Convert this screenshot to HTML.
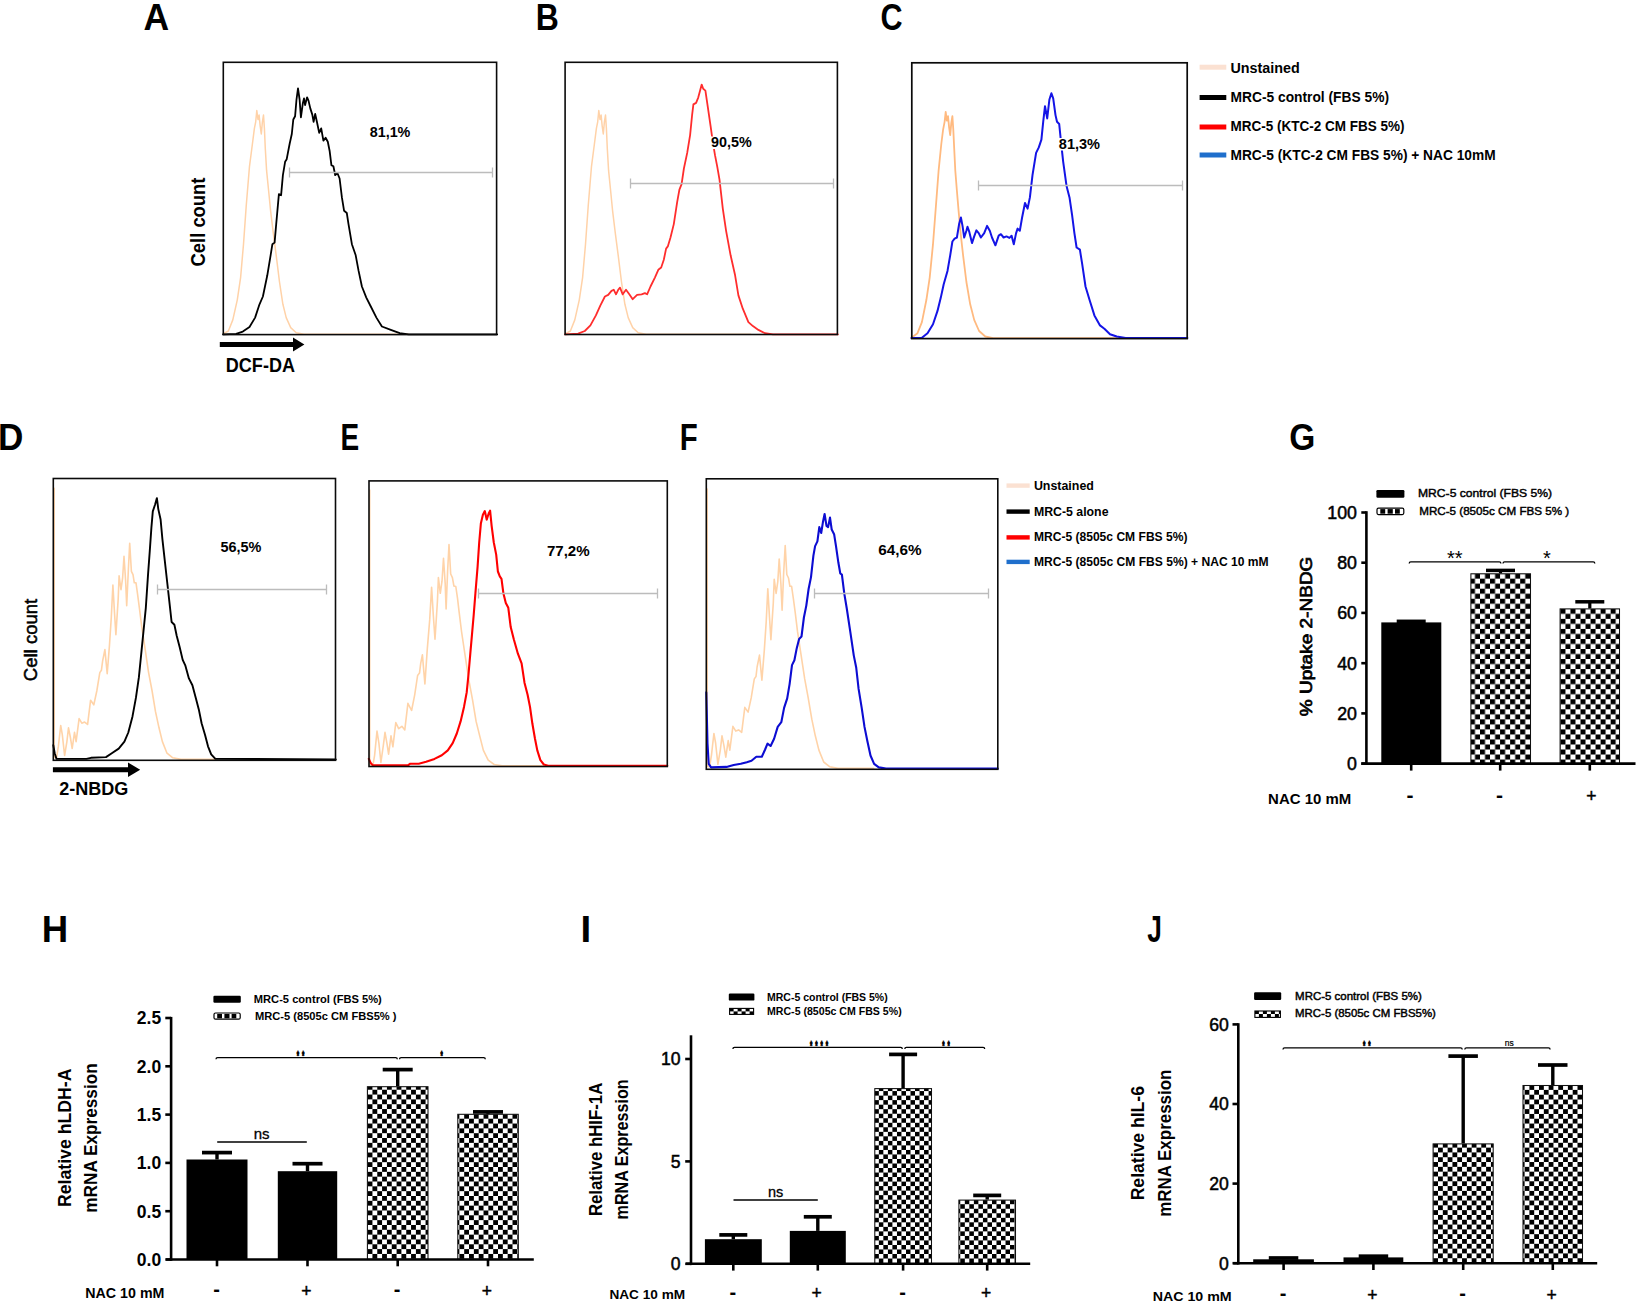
<!DOCTYPE html>
<html lang="en"><head><meta charset="utf-8"><title>Figure</title>
<style>html,body{margin:0;padding:0;background:#fff}svg{display:block}text{font-family:'Liberation Sans', sans-serif}</style>
</head><body>
<svg width="1640" height="1303" viewBox="0 0 1640 1303">
<rect width="1640" height="1303" fill="#fff"/>
<defs>
<pattern id="chkG" patternUnits="userSpaceOnUse" x="1560.40" y="608.80" width="10.05" height="10.05"><rect width="10.05" height="10.05" fill="#fff"/><rect x="0" y="0" width="5.03" height="5.03" fill="#000"/><rect x="5.03" y="5.03" width="5.03" height="5.03" fill="#000"/></pattern>
<pattern id="chkH" patternUnits="userSpaceOnUse" x="367.60" y="1084.90" width="9.66" height="9.66"><rect width="9.66" height="9.66" fill="#fff"/><rect x="0" y="0" width="4.83" height="4.83" fill="#000"/><rect x="4.83" y="4.83" width="4.83" height="4.83" fill="#000"/></pattern>
<pattern id="chkI" patternUnits="userSpaceOnUse" x="874.30" y="1091.10" width="9.05" height="9.05"><rect width="9.05" height="9.05" fill="#fff"/><rect x="0" y="0" width="4.53" height="4.53" fill="#000"/><rect x="4.53" y="4.53" width="4.53" height="4.53" fill="#000"/></pattern>
<pattern id="chkJ" patternUnits="userSpaceOnUse" x="1433.20" y="1142.80" width="9.62" height="9.62"><rect width="9.62" height="9.62" fill="#fff"/><rect x="0" y="0" width="4.81" height="4.81" fill="#000"/><rect x="4.81" y="4.81" width="4.81" height="4.81" fill="#000"/></pattern>
<pattern id="chkL" patternUnits="userSpaceOnUse" width="8" height="6"><rect width="8" height="6" fill="#fff"/><rect x="0" y="0" width="4" height="3" fill="#000"/><rect x="4" y="3" width="4" height="3" fill="#000"/></pattern>
</defs>
<polyline points="223.0,333.9 228.4,331.0 232.8,319.9 237.3,299.8 240.6,277.6 243.5,244.2 246.2,206.3 249.5,166.3 252.4,144.0 254.4,128.4 255.7,121.8 256.8,110.6 258.0,119.5 259.1,115.1 260.2,126.2 261.3,134.0 262.4,121.8 263.5,115.1 264.4,128.4 265.3,148.5 266.6,170.7 268.4,188.5 270.6,210.8 273.3,233.1 276.2,255.3 279.5,282.0 282.9,304.3 286.2,317.6 290.7,327.6 296.2,332.8 304.0,334.3 408.6,334.3" fill="none" stroke="#ffd2a8" stroke-width="1.5" stroke-linejoin="round" stroke-linecap="round" />
<polyline points="223.0,334.3 236.1,333.9 242.8,331.6 249.5,327.0 255.1,317.6 259.5,304.3 262.9,296.5 267.3,275.3 270.6,255.3 272.4,244.2 274.6,242.6 276.2,224.1 278.4,199.7 278.9,194.1 281.1,195.2 282.9,175.2 285.1,161.8 286.7,159.2 289.6,144.0 291.8,134.0 293.3,119.5 295.1,116.2 296.5,99.5 298.0,88.4 299.6,99.5 300.9,117.3 302.9,102.9 304.0,98.4 305.1,105.1 307.1,97.3 308.5,100.6 310.3,108.4 312.3,114.6 313.6,121.8 315.2,114.0 316.9,121.8 319.2,132.9 321.2,128.4 323.4,140.7 325.6,137.8 327.8,141.8 329.6,150.7 331.4,165.2 333.4,166.3 335.2,175.2 337.4,173.0 339.6,178.5 341.9,197.4 344.1,210.8 346.8,213.0 348.5,224.1 351.9,244.2 355.7,255.3 358.6,270.9 361.9,286.5 366.3,297.6 370.8,306.5 376.4,317.6 381.9,326.5 390.8,329.9 399.7,333.2 408.6,334.3 497.2,334.3" fill="none" stroke="#000" stroke-width="1.8" stroke-linejoin="round" stroke-linecap="round" />
<line x1="289.5" y1="172.5" x2="492.5" y2="172.5" stroke="#bcbcbc" stroke-width="1.4" />
<line x1="289.5" y1="167.5" x2="289.5" y2="177.5" stroke="#bcbcbc" stroke-width="1.3" />
<line x1="492.5" y1="167.5" x2="492.5" y2="177.5" stroke="#bcbcbc" stroke-width="1.3" />
<rect x="223.3" y="62.3" width="273.3" height="272.3" fill="none" stroke="#0a0a0a" stroke-width="1.6" />
<text x="369.7" y="137.3" font-size="14.4" font-weight="bold" text-anchor="start" fill="#000" textLength="40.7" lengthAdjust="spacingAndGlyphs" >81,1%</text>
<text transform="translate(205.4,222.0) rotate(-90)" font-size="20" font-weight="bold" text-anchor="middle" fill="#000" textLength="89.0" lengthAdjust="spacingAndGlyphs">Cell count</text>
<path d="M219.8 342.0 H293 V337.6 L304.4 344.5 L293 351.4 V347.0 H219.8 Z" fill="#000"/>
<text x="225.8" y="372.0" font-size="19.4" font-weight="bold" text-anchor="start" fill="#000" textLength="69.2" lengthAdjust="spacingAndGlyphs" >DCF-DA</text>
<polyline points="565.0,333.9 570.4,331.0 574.8,319.9 579.3,299.8 582.6,277.6 585.5,244.2 588.2,206.3 591.5,166.3 594.4,144.0 596.4,128.4 597.7,121.8 598.8,110.6 600.0,119.5 601.1,115.1 602.2,126.2 603.3,134.0 604.4,121.8 605.5,115.1 606.4,128.4 607.3,148.5 608.6,170.7 610.4,188.5 612.6,210.8 615.3,233.1 618.2,255.3 621.5,282.0 624.9,304.3 628.2,317.6 632.7,327.6 638.2,332.8 646.0,334.3 750.6,334.3" fill="none" stroke="#ffd2a8" stroke-width="1.5" stroke-linejoin="round" stroke-linecap="round" />
<polyline points="565.0,334.3 578.1,333.6 584.8,331.0 590.4,325.4 595.9,315.4 600.4,305.4 604.9,296.5 608.2,294.9 611.5,290.9 613.8,289.8 616.0,294.3 618.2,289.8 620.0,287.6 622.7,294.3 626.0,289.8 629.3,294.3 632.7,299.2 637.1,294.9 641.6,294.3 644.9,293.1 647.1,294.3 650.5,286.5 654.9,277.6 658.3,269.8 661.2,267.5 663.8,259.8 666.1,248.6 667.8,246.4 670.5,237.5 673.8,224.1 677.2,201.9 679.4,189.7 681.6,184.1 683.9,168.5 687.2,152.9 690.1,135.1 692.1,115.1 693.4,104.4 696.1,102.9 698.3,97.3 700.1,90.6 701.7,84.6 703.2,88.8 705.4,90.6 707.2,102.9 710.6,126.2 712.8,141.8 715.0,155.2 717.2,166.3 719.5,179.6 722.8,208.6 726.1,230.8 730.6,255.3 735.1,275.3 738.4,295.4 742.8,308.7 748.4,322.1 752.9,326.1 758.4,329.9 765.1,333.2 772.9,334.3 837.9,334.3" fill="none" stroke="#ff2d2d" stroke-width="1.8" stroke-linejoin="round" stroke-linecap="round" />
<line x1="630.5" y1="183.5" x2="833.5" y2="183.5" stroke="#bcbcbc" stroke-width="1.4" />
<line x1="630.5" y1="178.5" x2="630.5" y2="188.5" stroke="#bcbcbc" stroke-width="1.3" />
<line x1="833.5" y1="178.5" x2="833.5" y2="188.5" stroke="#bcbcbc" stroke-width="1.3" />
<rect x="565.1" y="62.3" width="272.3" height="272.2" fill="none" stroke="#0a0a0a" stroke-width="1.6" />
<rect x="710.0" y="136.5" width="43.0" height="12.5" fill="#fff" stroke="none" stroke-width="0" />
<text x="711.0" y="147.4" font-size="14.4" font-weight="bold" text-anchor="start" fill="#000" textLength="40.7" lengthAdjust="spacingAndGlyphs" >90,5%</text>
<polyline points="911.5,337.7 917.5,333.2 921.9,322.1 926.4,299.8 929.7,277.6 933.0,244.2 935.9,206.3 938.6,170.7 941.3,144.0 943.1,129.6 944.6,121.8 945.7,111.8 946.8,120.7 948.0,116.2 949.1,127.3 950.2,135.1 951.3,122.9 952.4,116.2 953.3,129.6 954.2,148.5 955.3,170.7 956.9,190.8 958.6,210.8 960.6,233.1 963.1,255.3 966.4,282.0 970.2,304.3 974.2,319.9 979.1,331.0 985.3,336.5 993.1,338.1 1116.7,338.1" fill="none" stroke="#ffba80" stroke-width="1.8" stroke-linejoin="round" stroke-linecap="round" />
<polyline points="911.5,338.1 921.9,337.7 927.5,333.2 933.0,324.3 937.5,310.9 940.8,297.6 943.7,284.2 947.5,270.9 950.2,255.3 952.4,241.5 954.6,238.6 956.9,237.5 959.1,224.1 960.9,217.5 962.6,226.4 964.2,237.5 966.4,230.8 967.5,226.8 969.3,231.9 972.0,243.1 974.2,236.4 976.4,230.4 978.7,233.1 980.9,237.5 984.2,233.1 987.1,225.9 989.8,230.8 992.0,237.5 995.4,245.3 998.7,235.7 1000.9,234.2 1003.6,237.5 1006.5,236.4 1009.4,237.9 1011.6,235.7 1013.8,244.2 1016.1,233.1 1017.6,228.6 1019.8,230.8 1022.1,217.5 1025.0,203.0 1027.6,208.6 1029.9,197.4 1032.5,175.2 1036.1,152.9 1038.8,147.4 1041.4,139.6 1043.2,121.8 1045.0,106.2 1047.2,118.4 1049.4,99.5 1051.4,93.3 1053.2,98.4 1055.5,115.1 1057.0,121.8 1059.2,124.0 1061.0,141.8 1063.2,161.8 1066.6,186.3 1069.5,197.4 1072.1,215.2 1074.4,233.1 1076.6,247.5 1079.9,249.7 1082.2,264.2 1085.5,286.5 1089.5,299.8 1094.4,315.4 1100.0,325.4 1104.4,328.8 1110.0,334.3 1116.7,336.5 1125.6,338.1 1187.4,338.1" fill="none" stroke="#1414e6" stroke-width="2.0" stroke-linejoin="round" stroke-linecap="round" />
<line x1="978.5" y1="185.5" x2="1182.5" y2="185.5" stroke="#bcbcbc" stroke-width="1.4" />
<line x1="978.5" y1="180.5" x2="978.5" y2="190.5" stroke="#bcbcbc" stroke-width="1.3" />
<line x1="1182.5" y1="180.5" x2="1182.5" y2="190.5" stroke="#bcbcbc" stroke-width="1.3" />
<rect x="911.8" y="62.8" width="275.4" height="275.8" fill="none" stroke="#0a0a0a" stroke-width="1.7" />
<rect x="1058.0" y="138.0" width="43.0" height="12.5" fill="#fff" stroke="none" stroke-width="0" />
<text x="1058.8" y="148.9" font-size="14.4" font-weight="bold" text-anchor="start" fill="#000" textLength="41.2" lengthAdjust="spacingAndGlyphs" >81,3%</text>
<line x1="1199.6" y1="67.2" x2="1226.3" y2="67.2" stroke="#fbe1d2" stroke-width="5" />
<line x1="1199.6" y1="97.5" x2="1226.3" y2="97.5" stroke="#000" stroke-width="5" />
<line x1="1199.6" y1="127.0" x2="1226.3" y2="127.0" stroke="#ff0000" stroke-width="5" />
<line x1="1199.6" y1="155.0" x2="1226.3" y2="155.0" stroke="#1f6fcc" stroke-width="5" />
<text x="1230.5" y="73.1" font-size="14" font-weight="bold" text-anchor="start" fill="#000" textLength="69.3" lengthAdjust="spacingAndGlyphs" >Unstained</text>
<text x="1230.5" y="102.3" font-size="14" font-weight="bold" text-anchor="start" fill="#000" textLength="158.5" lengthAdjust="spacingAndGlyphs" >MRC-5 control (FBS 5%)</text>
<text x="1230.5" y="131.2" font-size="14" font-weight="bold" text-anchor="start" fill="#000" textLength="173.9" lengthAdjust="spacingAndGlyphs" >MRC-5 (KTC-2 CM FBS 5%)</text>
<text x="1230.5" y="160.0" font-size="14" font-weight="bold" text-anchor="start" fill="#000" textLength="265.1" lengthAdjust="spacingAndGlyphs" >MRC-5 (KTC-2 CM FBS 5%) + NAC 10mM</text>
<text transform="translate(143.51,30.0) scale(0.965,1)" font-size="36.8" font-weight="bold" fill="#000">A</text>
<text transform="translate(535.72,30.0) scale(0.869,1)" font-size="36.8" font-weight="bold" fill="#000">B</text>
<text transform="translate(880.48,30.2) scale(0.830,1)" font-size="36.8" font-weight="bold" fill="#000">C</text>
<polyline points="54.2,488.4 54.2,757.4 56.5,757.8 58.4,746.2 60.7,725.5 62.3,734.7 64.6,755.5 66.9,741.6 68.5,727.8 70.3,737.0 72.2,748.5 74.5,732.4 76.1,741.6 79.1,718.6 81.8,723.2 84.6,722.1 87.6,724.4 90.6,700.2 93.8,704.8 96.8,691.0 99.8,672.6 101.4,670.3 102.6,661.1 104.9,649.6 107.2,673.7 109.5,644.9 111.3,617.3 112.9,585.1 114.5,612.7 115.9,634.6 118.2,598.9 119.1,575.9 121.0,589.7 122.6,578.2 124.0,556.3 125.6,580.5 126.7,605.8 128.4,569.0 129.7,543.2 131.4,571.3 133.0,574.7 134.3,582.8 136.0,582.8 137.6,594.3 139.4,608.1 141.7,626.5 145.2,649.6 148.6,672.6 152.1,691.0 155.5,711.7 159.0,727.8 162.4,741.6 167.0,753.2 172.8,757.8 180.9,759.4 215.4,759.4" fill="none" stroke="#ffd3a8" stroke-width="1.6" stroke-linejoin="round" stroke-linecap="round" />
<polyline points="53.3,745.1 54.7,753.2 56.5,758.9 86.4,758.9 91.0,757.8 106.0,757.1 111.8,753.2 118.7,748.6 124.4,741.7 128.3,732.5 132.5,716.4 135.9,697.9 138.9,677.2 141.2,654.2 143.5,631.2 145.8,608.1 148.1,573.6 149.8,550.6 151.4,527.6 152.8,511.4 155.1,504.5 156.9,498.1 158.3,509.1 160.6,519.5 162.4,539.1 164.7,559.8 167.0,580.5 169.3,601.2 171.6,622.0 174.4,624.7 176.7,635.8 179.7,647.3 182.7,659.9 185.4,665.7 188.9,678.4 192.4,685.3 195.8,697.9 198.8,709.4 201.6,723.3 205.0,734.8 208.0,746.3 211.2,754.3 215.4,758.9 335.8,759.4" fill="none" stroke="#000" stroke-width="1.9" stroke-linejoin="round" stroke-linecap="round" />
<line x1="157.5" y1="589.5" x2="326.5" y2="589.5" stroke="#bcbcbc" stroke-width="1.4" />
<line x1="157.5" y1="584.5" x2="157.5" y2="594.5" stroke="#bcbcbc" stroke-width="1.3" />
<line x1="326.5" y1="584.5" x2="326.5" y2="594.5" stroke="#bcbcbc" stroke-width="1.3" />
<rect x="53.3" y="478.5" width="282.2" height="281.8" fill="none" stroke="#0a0a0a" stroke-width="1.6" />
<text x="220.4" y="552.4" font-size="14.4" font-weight="bold" text-anchor="start" fill="#000" textLength="41.0" lengthAdjust="spacingAndGlyphs" >56,5%</text>
<text transform="translate(36.8,640.0) rotate(-90)" font-size="18.8" font-weight="normal" text-anchor="middle" fill="#000" textLength="82.4" lengthAdjust="spacingAndGlyphs" stroke="#000" stroke-width="0.55">Cell count</text>
<path d="M52.9 767.2 H128 V762.5 L140.2 769.7 L128 776.9 V772.2 H52.9 Z" fill="#000"/>
<text x="59.2" y="794.6" font-size="18.8" font-weight="bold" text-anchor="start" fill="#000" textLength="69.2" lengthAdjust="spacingAndGlyphs" >2-NBDG</text>
<polyline points="369.7,490.0 369.7,764.5 372.9,765.4 374.6,755.3 377.0,731.1 378.9,743.2 380.9,762.5 383.3,745.6 385.0,732.3 386.9,743.2 388.6,754.1 391.0,735.9 392.9,746.8 395.8,722.6 398.7,728.7 401.9,726.3 404.8,729.9 407.9,703.3 411.6,710.5 414.7,694.8 417.6,675.5 419.5,673.1 420.7,663.4 422.4,654.9 424.9,683.9 427.3,648.9 429.7,619.9 431.6,587.2 433.3,615.0 435.0,639.2 437.4,601.8 438.4,577.6 440.3,593.3 442.0,581.2 443.5,558.2 445.2,583.6 446.1,609.0 447.6,571.5 449.0,544.5 450.7,574.0 452.4,577.6 453.9,586.0 455.8,586.5 457.5,598.1 459.2,612.6 461.6,632.0 465.2,656.1 468.9,680.3 472.5,699.7 476.1,721.4 479.7,735.9 483.4,750.4 488.2,760.1 494.2,764.5 502.2,765.7 543.3,765.7" fill="none" stroke="#ffd3a8" stroke-width="1.6" stroke-linejoin="round" stroke-linecap="round" />
<polyline points="368.8,758.9 370.7,763.0 372.9,765.4 407.9,765.4 410.3,763.7 418.8,763.7 426.1,761.8 434.5,758.9 441.8,755.3 447.8,750.4 452.7,743.2 456.8,733.5 460.6,721.4 464.0,706.9 466.7,692.4 468.4,675.5 470.3,653.7 472.0,634.4 473.7,615.0 475.6,590.9 477.6,566.7 479.2,542.5 480.9,523.2 482.9,514.7 484.8,511.1 486.7,519.6 488.7,513.5 490.1,510.6 491.6,525.6 493.8,542.5 496.2,554.6 497.9,571.5 499.8,576.4 501.5,578.8 503.4,593.3 505.8,603.0 508.3,607.8 510.7,627.1 513.8,639.2 517.9,653.7 521.6,663.4 524.5,682.7 527.6,694.8 530.0,706.9 532.4,723.8 534.9,738.3 537.3,750.4 540.4,760.1 543.8,764.5 548.1,765.7 667.3,765.7" fill="none" stroke="#ff0000" stroke-width="2.1" stroke-linejoin="round" stroke-linecap="round" />
<line x1="478.5" y1="593.5" x2="657.5" y2="593.5" stroke="#bcbcbc" stroke-width="1.4" />
<line x1="478.5" y1="588.5" x2="478.5" y2="598.5" stroke="#bcbcbc" stroke-width="1.3" />
<line x1="657.5" y1="588.5" x2="657.5" y2="598.5" stroke="#bcbcbc" stroke-width="1.3" />
<rect x="369.0" y="480.9" width="298.3" height="285.6" fill="none" stroke="#0a0a0a" stroke-width="1.6" />
<text x="546.9" y="555.8" font-size="14.4" font-weight="bold" text-anchor="start" fill="#000" textLength="42.8" lengthAdjust="spacingAndGlyphs" >77,2%</text>
<polyline points="707.2,489.0 707.2,766.4 709.6,766.7 711.5,754.8 713.9,733.5 715.6,743.0 717.9,764.3 720.3,750.1 722.0,735.8 723.9,745.3 725.8,757.2 728.2,740.6 729.8,750.1 732.9,726.4 735.8,731.1 738.6,729.9 741.7,732.3 744.8,707.4 748.1,712.1 751.2,697.9 754.3,678.9 756.0,676.5 757.1,667.0 759.5,655.1 761.9,680.1 764.3,650.4 766.2,621.9 767.8,588.7 769.5,617.2 770.9,639.7 773.3,602.9 774.2,579.2 776.1,593.4 777.8,581.6 779.2,559.0 780.9,583.9 782.1,610.1 783.7,572.1 785.2,545.5 786.8,574.5 788.5,578.0 789.9,586.3 791.6,586.3 793.3,598.2 795.2,612.4 797.5,631.4 801.1,655.1 804.7,678.9 808.2,697.9 811.8,719.2 815.3,735.8 818.9,750.1 823.7,762.0 829.6,766.7 837.9,768.4 873.6,768.4" fill="none" stroke="#ffd3a8" stroke-width="1.6" stroke-linejoin="round" stroke-linecap="round" />
<polyline points="706.3,692.4 707.5,743.6 708.7,763.8 711.1,767.4 726.5,766.9 733.7,765.0 740.8,763.8 746.8,762.2 751.5,760.7 756.3,756.7 761.8,756.7 765.1,749.5 767.5,743.6 770.6,746.0 774.1,738.8 777.7,726.9 781.3,722.2 784.1,707.9 787.2,698.4 789.6,684.1 792.0,665.1 794.4,660.3 796.7,648.4 799.1,638.9 801.5,636.5 803.9,617.5 806.3,605.6 808.6,589.0 811.0,577.1 813.4,555.6 815.1,546.1 817.4,541.4 819.3,527.1 821.2,533.0 822.9,522.3 824.6,514.0 826.5,525.9 828.1,527.1 830.0,517.6 831.7,529.5 834.1,534.2 836.0,546.1 838.4,562.8 840.3,573.5 841.9,574.7 844.3,593.7 846.7,608.0 850.3,631.8 853.8,655.6 856.2,667.5 858.6,688.9 861.7,707.9 864.5,726.9 867.4,741.2 870.5,755.5 874.1,763.8 878.8,767.4 886.0,768.6 997.8,768.6" fill="none" stroke="#0c0cd2" stroke-width="2.1" stroke-linejoin="round" stroke-linecap="round" />
<line x1="814.5" y1="593.5" x2="988.5" y2="593.5" stroke="#bcbcbc" stroke-width="1.4" />
<line x1="814.5" y1="588.5" x2="814.5" y2="598.5" stroke="#bcbcbc" stroke-width="1.3" />
<line x1="988.5" y1="588.5" x2="988.5" y2="598.5" stroke="#bcbcbc" stroke-width="1.3" />
<rect x="706.3" y="478.8" width="291.5" height="290.5" fill="none" stroke="#0a0a0a" stroke-width="1.6" />
<text x="878.3" y="554.9" font-size="14.4" font-weight="bold" text-anchor="start" fill="#000" textLength="43.3" lengthAdjust="spacingAndGlyphs" >64,6%</text>
<line x1="1006.5" y1="485.6" x2="1029.7" y2="485.6" stroke="#fbe1d2" stroke-width="4.4" />
<line x1="1006.5" y1="511.6" x2="1029.7" y2="511.6" stroke="#000" stroke-width="4.4" />
<line x1="1006.5" y1="537.4" x2="1029.7" y2="537.4" stroke="#ff0000" stroke-width="4.4" />
<line x1="1006.5" y1="561.9" x2="1029.7" y2="561.9" stroke="#1f6fcc" stroke-width="4.4" />
<text x="1033.9" y="490.2" font-size="12" font-weight="bold" text-anchor="start" fill="#000" textLength="60.0" lengthAdjust="spacingAndGlyphs" >Unstained</text>
<text x="1033.9" y="515.8" font-size="12" font-weight="bold" text-anchor="start" fill="#000" textLength="74.6" lengthAdjust="spacingAndGlyphs" >MRC-5 alone</text>
<text x="1033.9" y="540.5" font-size="12" font-weight="bold" text-anchor="start" fill="#000" textLength="153.6" lengthAdjust="spacingAndGlyphs" >MRC-5 (8505c CM FBS 5%)</text>
<text x="1033.9" y="566.1" font-size="12" font-weight="bold" text-anchor="start" fill="#000" textLength="234.7" lengthAdjust="spacingAndGlyphs" >MRC-5 (8505c CM FBS 5%) + NAC 10 mM</text>
<text transform="translate(-2.08,449.5) scale(0.954,1)" font-size="36.8" font-weight="bold" fill="#000">D</text>
<text transform="translate(340.38,450.0) scale(0.760,1)" font-size="36.8" font-weight="bold" fill="#000">E</text>
<text transform="translate(679.69,450.0) scale(0.799,1)" font-size="36.8" font-weight="bold" fill="#000">F</text>
<text transform="translate(1289.26,450.2) scale(0.910,1)" font-size="36.8" font-weight="bold" fill="#000">G</text>
<rect x="1381.3" y="622.4" width="60.0" height="141.2" fill="#000" stroke="none" stroke-width="0" />
<rect x="1470.9" y="573.8" width="59.6" height="189.8" fill="url(#chkG)" stroke="#111" stroke-width="1.05"/>
<rect x="1560.1" y="608.9" width="59.4" height="154.7" fill="url(#chkG)" stroke="#111" stroke-width="1.05"/>
<line x1="1411.2" y1="621.3" x2="1411.2" y2="622.4" stroke="#000" stroke-width="3.2" />
<line x1="1396.7" y1="621.3" x2="1425.7" y2="621.3" stroke="#000" stroke-width="3.5" />
<line x1="1500.5" y1="570.4" x2="1500.5" y2="573.3" stroke="#000" stroke-width="3.2" />
<line x1="1486.0" y1="570.4" x2="1515.0" y2="570.4" stroke="#000" stroke-width="3.5" />
<line x1="1589.8" y1="601.8" x2="1589.8" y2="608.4" stroke="#000" stroke-width="3.2" />
<line x1="1575.3" y1="601.8" x2="1604.3" y2="601.8" stroke="#000" stroke-width="3.5" />
<line x1="1366.4" y1="511.2" x2="1366.4" y2="764.9" stroke="#000" stroke-width="2.6" />
<line x1="1361.3" y1="763.6" x2="1635.5" y2="763.6" stroke="#000" stroke-width="2.6" />
<line x1="1361.3" y1="763.6" x2="1366.4" y2="763.6" stroke="#000" stroke-width="2.6" />
<text x="1357.0" y="769.9" font-size="17.8" font-weight="normal" text-anchor="end" fill="#000"  stroke="#000" stroke-width="0.5">0</text>
<line x1="1361.3" y1="713.4" x2="1366.4" y2="713.4" stroke="#000" stroke-width="2.6" />
<text x="1357.0" y="719.7" font-size="17.8" font-weight="normal" text-anchor="end" fill="#000"  stroke="#000" stroke-width="0.5">20</text>
<line x1="1361.3" y1="663.2" x2="1366.4" y2="663.2" stroke="#000" stroke-width="2.6" />
<text x="1357.0" y="669.5" font-size="17.8" font-weight="normal" text-anchor="end" fill="#000"  stroke="#000" stroke-width="0.5">40</text>
<line x1="1361.3" y1="612.9" x2="1366.4" y2="612.9" stroke="#000" stroke-width="2.6" />
<text x="1357.0" y="619.2" font-size="17.8" font-weight="normal" text-anchor="end" fill="#000"  stroke="#000" stroke-width="0.5">60</text>
<line x1="1361.3" y1="562.7" x2="1366.4" y2="562.7" stroke="#000" stroke-width="2.6" />
<text x="1357.0" y="569.0" font-size="17.8" font-weight="normal" text-anchor="end" fill="#000"  stroke="#000" stroke-width="0.5">80</text>
<line x1="1361.3" y1="512.5" x2="1366.4" y2="512.5" stroke="#000" stroke-width="2.6" />
<text x="1357.0" y="518.8" font-size="17.8" font-weight="normal" text-anchor="end" fill="#000"  stroke="#000" stroke-width="0.5">100</text>
<line x1="1411.2" y1="763.6" x2="1411.2" y2="770.6" stroke="#000" stroke-width="2.6" />
<line x1="1500.2" y1="763.6" x2="1500.2" y2="770.6" stroke="#000" stroke-width="2.6" />
<line x1="1589.8" y1="763.6" x2="1589.8" y2="770.6" stroke="#000" stroke-width="2.6" />
<text transform="translate(1311.6,636.4) rotate(-90)" font-size="16" font-weight="normal" text-anchor="middle" fill="#000" textLength="159.6" lengthAdjust="spacingAndGlyphs" stroke="#000" stroke-width="0.7">% Uptake 2-NBDG</text>
<path d="M1409.2 563.5 Q1409.2 561.9 1410.8 561.9 H1499.3 Q1500.9 561.9 1500.9 563.5" fill="none" stroke="#000" stroke-width="1.3"/>
<path d="M1503.0 563.5 Q1503.0 561.9 1504.6 561.9 H1593.2 Q1594.8 561.9 1594.8 563.5" fill="none" stroke="#000" stroke-width="1.3"/>
<text x="1454.8" y="565.2" font-size="20" font-weight="normal" text-anchor="middle" fill="#000" >**</text>
<text x="1547.0" y="565.2" font-size="20" font-weight="normal" text-anchor="middle" fill="#000" >*</text>
<rect x="1376.4" y="490.0" width="28.0" height="7.7" fill="#000" stroke="none" stroke-width="0" rx="1.2"/>
<rect x="1377.0" y="508.2" width="26.8" height="6.4" fill="#fff" stroke="#000" stroke-width="1.2" rx="1.5"/>
<rect x="1380.3" y="509.1" width="4.9" height="4.6" fill="#000" stroke="none" stroke-width="0" />
<rect x="1387.6" y="509.1" width="5.2" height="4.6" fill="#000" stroke="none" stroke-width="0" />
<rect x="1395.0" y="509.1" width="4.8" height="4.6" fill="#000" stroke="none" stroke-width="0" />
<text x="1418.0" y="497.0" font-size="11.8" font-weight="normal" text-anchor="start" fill="#000" textLength="134.0" lengthAdjust="spacingAndGlyphs"  stroke="#000" stroke-width="0.45">MRC-5 control (FBS 5%)</text>
<text x="1419.2" y="514.7" font-size="11.8" font-weight="normal" text-anchor="start" fill="#000" textLength="150.0" lengthAdjust="spacingAndGlyphs"  stroke="#000" stroke-width="0.45">MRC-5 (8505c CM FBS 5% )</text>
<text x="1268.1" y="803.9" font-size="13.8" font-weight="bold" text-anchor="start" fill="#000" textLength="83.1" lengthAdjust="spacingAndGlyphs" >NAC 10 mM</text>
<text x="1410.0" y="802.4" font-size="21" font-weight="bold" text-anchor="middle" fill="#000" >-</text>
<text x="1499.6" y="802.4" font-size="21" font-weight="bold" text-anchor="middle" fill="#000" >-</text>
<text x="1591.3" y="802.0" font-size="17.5" font-weight="normal" text-anchor="middle" fill="#000"  stroke="#000" stroke-width="0.45">+</text>
<text transform="translate(41.82,942.2) scale(0.995,1)" font-size="36.8" font-weight="bold" fill="#000">H</text>
<rect x="186.5" y="1159.5" width="61.0" height="100.0" fill="#000" stroke="none" stroke-width="0" />
<line x1="217.0" y1="1152.6" x2="217.0" y2="1159.5" stroke="#000" stroke-width="3.4" />
<line x1="202.0" y1="1152.6" x2="232.0" y2="1152.6" stroke="#000" stroke-width="3.6999999999999997" />
<rect x="277.8" y="1171.2" width="59.4" height="88.3" fill="#000" stroke="none" stroke-width="0" />
<line x1="307.5" y1="1163.7" x2="307.5" y2="1171.2" stroke="#000" stroke-width="3.4" />
<line x1="292.5" y1="1163.7" x2="322.5" y2="1163.7" stroke="#000" stroke-width="3.6999999999999997" />
<rect x="367.4" y="1086.7" width="60.6" height="172.8" fill="url(#chkH)" stroke="#111" stroke-width="1.05"/>
<line x1="397.7" y1="1069.6" x2="397.7" y2="1086.2" stroke="#000" stroke-width="3.4" />
<line x1="382.7" y1="1069.6" x2="412.7" y2="1069.6" stroke="#000" stroke-width="3.6999999999999997" />
<rect x="457.8" y="1114.3" width="60.5" height="145.2" fill="url(#chkH)" stroke="#111" stroke-width="1.05"/>
<line x1="488.0" y1="1111.9" x2="488.0" y2="1113.8" stroke="#000" stroke-width="3.4" />
<line x1="473.0" y1="1111.9" x2="503.0" y2="1111.9" stroke="#000" stroke-width="3.6999999999999997" />
<line x1="171.1" y1="1016.9" x2="171.1" y2="1260.8" stroke="#000" stroke-width="2.6" />
<line x1="166.1" y1="1259.5" x2="533.8" y2="1259.5" stroke="#000" stroke-width="2.6" />
<line x1="165.3" y1="1259.5" x2="171.1" y2="1259.5" stroke="#000" stroke-width="2.6" />
<text x="161.2" y="1265.8" font-size="17.5" font-weight="bold" text-anchor="end" fill="#000" >0.0</text>
<line x1="165.3" y1="1211.2" x2="171.1" y2="1211.2" stroke="#000" stroke-width="2.6" />
<text x="161.2" y="1217.5" font-size="17.5" font-weight="bold" text-anchor="end" fill="#000" >0.5</text>
<line x1="165.3" y1="1162.9" x2="171.1" y2="1162.9" stroke="#000" stroke-width="2.6" />
<text x="161.2" y="1169.2" font-size="17.5" font-weight="bold" text-anchor="end" fill="#000" >1.0</text>
<line x1="165.3" y1="1114.6" x2="171.1" y2="1114.6" stroke="#000" stroke-width="2.6" />
<text x="161.2" y="1120.9" font-size="17.5" font-weight="bold" text-anchor="end" fill="#000" >1.5</text>
<line x1="165.3" y1="1066.3" x2="171.1" y2="1066.3" stroke="#000" stroke-width="2.6" />
<text x="161.2" y="1072.6" font-size="17.5" font-weight="bold" text-anchor="end" fill="#000" >2.0</text>
<line x1="165.3" y1="1018.0" x2="171.1" y2="1018.0" stroke="#000" stroke-width="2.6" />
<text x="161.2" y="1024.3" font-size="17.5" font-weight="bold" text-anchor="end" fill="#000" >2.5</text>
<line x1="217.0" y1="1259.5" x2="217.0" y2="1266.3" stroke="#000" stroke-width="2.6" />
<line x1="307.5" y1="1259.5" x2="307.5" y2="1266.3" stroke="#000" stroke-width="2.6" />
<line x1="397.7" y1="1259.5" x2="397.7" y2="1266.3" stroke="#000" stroke-width="2.6" />
<line x1="488.0" y1="1259.5" x2="488.0" y2="1266.3" stroke="#000" stroke-width="2.6" />
<text transform="translate(70.9,1137.8) rotate(-90)" font-size="18" font-weight="bold" text-anchor="middle" fill="#000" textLength="138.4" lengthAdjust="spacingAndGlyphs">Relative hLDH-A</text>
<text transform="translate(96.5,1138.0) rotate(-90)" font-size="18" font-weight="bold" text-anchor="middle" fill="#000" textLength="149.5" lengthAdjust="spacingAndGlyphs">mRNA Expression</text>
<path d="M216.0 1059.3 Q216.0 1057.7 217.6 1057.7 H395.7 Q397.3 1057.7 397.3 1059.3" fill="none" stroke="#000" stroke-width="1.3"/>
<path d="M399.5 1059.3 Q399.5 1057.7 401.1 1057.7 H483.7 Q485.3 1057.7 485.3 1059.3" fill="none" stroke="#000" stroke-width="1.3"/>
<text transform="translate(301.9,1060.0) scale(0.46,1)" font-size="13" font-weight="bold" text-anchor="middle" letter-spacing="6.4" fill="#000" stroke="#000" stroke-width="0.9">**</text>
<text transform="translate(443.1,1060.0) scale(0.46,1)" font-size="13" font-weight="bold" text-anchor="middle" letter-spacing="6.4" fill="#000" stroke="#000" stroke-width="0.9">*</text>
<line x1="217.2" y1="1142.0" x2="306.8" y2="1142.0" stroke="#000" stroke-width="1.4" />
<text x="261.7" y="1139.0" font-size="15" font-weight="normal" text-anchor="middle" fill="#000"  stroke="#000" stroke-width="0.3">ns</text>
<rect x="213.4" y="995.7" width="27.4" height="7.0" fill="#000" stroke="none" stroke-width="0" rx="1.2"/>
<rect x="214.0" y="1013.0" width="26.2" height="6.2" fill="#fff" stroke="#000" stroke-width="1.2" rx="1.5"/>
<rect x="217.2" y="1013.9" width="4.8" height="4.4" fill="#000" stroke="none" stroke-width="0" />
<rect x="224.4" y="1013.9" width="5.1" height="4.4" fill="#000" stroke="none" stroke-width="0" />
<rect x="231.6" y="1013.9" width="4.7" height="4.4" fill="#000" stroke="none" stroke-width="0" />
<text x="253.8" y="1003.0" font-size="11.1" font-weight="bold" text-anchor="start" fill="#000" textLength="128.0" lengthAdjust="spacingAndGlyphs" >MRC-5 control (FBS 5%)</text>
<text x="255.0" y="1019.9" font-size="11.1" font-weight="bold" text-anchor="start" fill="#000" textLength="141.5" lengthAdjust="spacingAndGlyphs" >MRC-5 (8505c CM FBS5% )</text>
<text x="85.3" y="1297.7" font-size="13.8" font-weight="bold" text-anchor="start" fill="#000" textLength="79.1" lengthAdjust="spacingAndGlyphs" >NAC 10 mM</text>
<text x="216.5" y="1296.3" font-size="20" font-weight="bold" text-anchor="middle" fill="#000" >-</text>
<text x="306.4" y="1296.9" font-size="17.5" font-weight="normal" text-anchor="middle" fill="#000"  stroke="#000" stroke-width="0.45">+</text>
<text x="397.2" y="1296.3" font-size="20" font-weight="bold" text-anchor="middle" fill="#000" >-</text>
<text x="486.9" y="1296.9" font-size="17.5" font-weight="normal" text-anchor="middle" fill="#000"  stroke="#000" stroke-width="0.45">+</text>
<text transform="translate(580.49,942.2) scale(1.049,1)" font-size="36.8" font-weight="bold" fill="#000">I</text>
<rect x="704.9" y="1239.2" width="56.9" height="24.6" fill="#000" stroke="none" stroke-width="0" />
<line x1="733.3" y1="1234.9" x2="733.3" y2="1239.2" stroke="#000" stroke-width="3.4" />
<line x1="719.3" y1="1234.9" x2="747.3" y2="1234.9" stroke="#000" stroke-width="3.6999999999999997" />
<rect x="789.8" y="1230.9" width="56.0" height="32.9" fill="#000" stroke="none" stroke-width="0" />
<line x1="817.8" y1="1216.8" x2="817.8" y2="1230.9" stroke="#000" stroke-width="3.4" />
<line x1="803.8" y1="1216.8" x2="831.8" y2="1216.8" stroke="#000" stroke-width="3.6999999999999997" />
<rect x="874.8" y="1088.6" width="56.7" height="175.2" fill="url(#chkI)" stroke="#111" stroke-width="1.05"/>
<line x1="903.1" y1="1054.4" x2="903.1" y2="1088.1" stroke="#000" stroke-width="3.4" />
<line x1="889.1" y1="1054.4" x2="917.1" y2="1054.4" stroke="#000" stroke-width="3.6999999999999997" />
<rect x="958.9" y="1200.1" width="56.6" height="63.7" fill="url(#chkI)" stroke="#111" stroke-width="1.05"/>
<line x1="987.2" y1="1195.4" x2="987.2" y2="1199.6" stroke="#000" stroke-width="3.4" />
<line x1="973.2" y1="1195.4" x2="1001.2" y2="1195.4" stroke="#000" stroke-width="3.6999999999999997" />
<line x1="691.0" y1="1035.3" x2="691.0" y2="1265.1" stroke="#000" stroke-width="2.6" />
<line x1="686.0" y1="1263.8" x2="1030.2" y2="1263.8" stroke="#000" stroke-width="2.6" />
<line x1="685.2" y1="1263.8" x2="691.0" y2="1263.8" stroke="#000" stroke-width="2.6" />
<text x="680.6" y="1270.1" font-size="17.6" font-weight="normal" text-anchor="end" fill="#000"  stroke="#000" stroke-width="0.5">0</text>
<line x1="685.2" y1="1161.4" x2="691.0" y2="1161.4" stroke="#000" stroke-width="2.6" />
<text x="680.6" y="1167.7" font-size="17.6" font-weight="normal" text-anchor="end" fill="#000"  stroke="#000" stroke-width="0.5">5</text>
<line x1="685.2" y1="1059.0" x2="691.0" y2="1059.0" stroke="#000" stroke-width="2.6" />
<text x="680.6" y="1065.3" font-size="17.6" font-weight="normal" text-anchor="end" fill="#000"  stroke="#000" stroke-width="0.5">10</text>
<line x1="733.3" y1="1263.8" x2="733.3" y2="1270.6" stroke="#000" stroke-width="2.6" />
<line x1="817.8" y1="1263.8" x2="817.8" y2="1270.6" stroke="#000" stroke-width="2.6" />
<line x1="903.1" y1="1263.8" x2="903.1" y2="1270.6" stroke="#000" stroke-width="2.6" />
<line x1="987.2" y1="1263.8" x2="987.2" y2="1270.6" stroke="#000" stroke-width="2.6" />
<text transform="translate(602.1,1149.4) rotate(-90)" font-size="17.5" font-weight="bold" text-anchor="middle" fill="#000" textLength="133.4" lengthAdjust="spacingAndGlyphs">Relative hHIF-1A</text>
<text transform="translate(627.5,1149.4) rotate(-90)" font-size="17.5" font-weight="bold" text-anchor="middle" fill="#000" textLength="140.0" lengthAdjust="spacingAndGlyphs">mRNA Expression</text>
<path d="M732.9 1048.9 Q732.9 1047.3 734.5 1047.3 H900.7 Q902.3 1047.3 902.3 1048.9" fill="none" stroke="#000" stroke-width="1.3"/>
<path d="M904.8 1048.9 Q904.8 1047.3 906.4 1047.3 H983.1 Q984.7 1047.3 984.7 1048.9" fill="none" stroke="#000" stroke-width="1.3"/>
<text transform="translate(820.5,1049.6) scale(0.46,1)" font-size="13" font-weight="bold" text-anchor="middle" letter-spacing="6.4" fill="#000" stroke="#000" stroke-width="0.9">****</text>
<text transform="translate(947.6,1049.6) scale(0.46,1)" font-size="13" font-weight="bold" text-anchor="middle" letter-spacing="6.4" fill="#000" stroke="#000" stroke-width="0.9">**</text>
<line x1="733.5" y1="1200.0" x2="817.8" y2="1200.0" stroke="#000" stroke-width="1.4" />
<text x="775.7" y="1197.3" font-size="14.5" font-weight="normal" text-anchor="middle" fill="#000"  stroke="#000" stroke-width="0.3">ns</text>
<rect x="728.8" y="993.5" width="25.6" height="7.1" fill="#000" stroke="none" stroke-width="0" rx="1.2"/>
<g transform="translate(729.6,1008.4)"><rect x="0" y="0" width="24.0" height="6.0" fill="url(#chkL)" stroke="#000" stroke-width="1.1"/></g>
<text x="767.0" y="1000.9" font-size="10.6" font-weight="bold" text-anchor="start" fill="#000" textLength="120.7" lengthAdjust="spacingAndGlyphs" >MRC-5 control (FBS 5%)</text>
<text x="767.0" y="1015.1" font-size="10.6" font-weight="bold" text-anchor="start" fill="#000" textLength="134.7" lengthAdjust="spacingAndGlyphs" >MRC-5 (8505c CM FBS 5%)</text>
<text x="609.4" y="1299.0" font-size="13.2" font-weight="bold" text-anchor="start" fill="#000" textLength="75.7" lengthAdjust="spacingAndGlyphs" >NAC 10 mM</text>
<text x="732.8" y="1298.8" font-size="20" font-weight="bold" text-anchor="middle" fill="#000" >-</text>
<text x="816.7" y="1299.4" font-size="17.5" font-weight="normal" text-anchor="middle" fill="#000"  stroke="#000" stroke-width="0.45">+</text>
<text x="902.6" y="1298.8" font-size="20" font-weight="bold" text-anchor="middle" fill="#000" >-</text>
<text x="986.1" y="1299.4" font-size="17.5" font-weight="normal" text-anchor="middle" fill="#000"  stroke="#000" stroke-width="0.45">+</text>
<text transform="translate(1147.31,942.2) scale(0.715,1)" font-size="36.8" font-weight="bold" fill="#000">J</text>
<rect x="1253.2" y="1259.3" width="60.7" height="3.9" fill="#000" stroke="none" stroke-width="0" />
<line x1="1283.6" y1="1258.0" x2="1283.6" y2="1259.3" stroke="#000" stroke-width="3.4" />
<line x1="1268.8" y1="1258.0" x2="1298.3" y2="1258.0" stroke="#000" stroke-width="3.6999999999999997" />
<rect x="1343.5" y="1257.4" width="59.8" height="5.8" fill="#000" stroke="none" stroke-width="0" />
<line x1="1373.4" y1="1256.2" x2="1373.4" y2="1257.4" stroke="#000" stroke-width="3.4" />
<line x1="1358.7" y1="1256.2" x2="1388.2" y2="1256.2" stroke="#000" stroke-width="3.6999999999999997" />
<rect x="1433.1" y="1143.9" width="60.1" height="119.3" fill="url(#chkJ)" stroke="#111" stroke-width="1.05"/>
<line x1="1463.2" y1="1056.1" x2="1463.2" y2="1143.4" stroke="#000" stroke-width="3.4" />
<line x1="1448.4" y1="1056.1" x2="1477.9" y2="1056.1" stroke="#000" stroke-width="3.6999999999999997" />
<rect x="1523.0" y="1085.5" width="59.5" height="177.7" fill="url(#chkJ)" stroke="#111" stroke-width="1.05"/>
<line x1="1552.8" y1="1065.0" x2="1552.8" y2="1085.0" stroke="#000" stroke-width="3.4" />
<line x1="1538.0" y1="1065.0" x2="1567.5" y2="1065.0" stroke="#000" stroke-width="3.6999999999999997" />
<line x1="1238.3" y1="1023.2" x2="1238.3" y2="1264.5" stroke="#000" stroke-width="2.6" />
<line x1="1233.3" y1="1263.2" x2="1597.2" y2="1263.2" stroke="#000" stroke-width="2.6" />
<line x1="1232.5" y1="1263.2" x2="1238.3" y2="1263.2" stroke="#000" stroke-width="2.6" />
<text x="1228.8" y="1269.5" font-size="17.6" font-weight="normal" text-anchor="end" fill="#000"  stroke="#000" stroke-width="0.5">0</text>
<line x1="1232.5" y1="1183.6" x2="1238.3" y2="1183.6" stroke="#000" stroke-width="2.6" />
<text x="1228.8" y="1189.9" font-size="17.6" font-weight="normal" text-anchor="end" fill="#000"  stroke="#000" stroke-width="0.5">20</text>
<line x1="1232.5" y1="1104.0" x2="1238.3" y2="1104.0" stroke="#000" stroke-width="2.6" />
<text x="1228.8" y="1110.3" font-size="17.6" font-weight="normal" text-anchor="end" fill="#000"  stroke="#000" stroke-width="0.5">40</text>
<line x1="1232.5" y1="1024.4" x2="1238.3" y2="1024.4" stroke="#000" stroke-width="2.6" />
<text x="1228.8" y="1030.7" font-size="17.6" font-weight="normal" text-anchor="end" fill="#000"  stroke="#000" stroke-width="0.5">60</text>
<line x1="1283.6" y1="1263.2" x2="1283.6" y2="1270.0" stroke="#000" stroke-width="2.6" />
<line x1="1373.4" y1="1263.2" x2="1373.4" y2="1270.0" stroke="#000" stroke-width="2.6" />
<line x1="1463.2" y1="1263.2" x2="1463.2" y2="1270.0" stroke="#000" stroke-width="2.6" />
<line x1="1552.8" y1="1263.2" x2="1552.8" y2="1270.0" stroke="#000" stroke-width="2.6" />
<text transform="translate(1143.8,1143.2) rotate(-90)" font-size="17.5" font-weight="bold" text-anchor="middle" fill="#000" textLength="114.3" lengthAdjust="spacingAndGlyphs">Relative hIL-6</text>
<text transform="translate(1170.8,1143.2) rotate(-90)" font-size="17.5" font-weight="bold" text-anchor="middle" fill="#000" textLength="147.2" lengthAdjust="spacingAndGlyphs">mRNA Expression</text>
<path d="M1283.0 1049.4 Q1283.0 1047.8 1284.6 1047.8 H1460.6 Q1462.2 1047.8 1462.2 1049.4" fill="none" stroke="#000" stroke-width="1.3"/>
<path d="M1464.8 1049.4 Q1464.8 1047.8 1466.4 1047.8 H1548.5 Q1550.1 1047.8 1550.1 1049.4" fill="none" stroke="#000" stroke-width="1.3"/>
<text transform="translate(1368.3,1050.1) scale(0.46,1)" font-size="13" font-weight="bold" text-anchor="middle" letter-spacing="6.4" fill="#000" stroke="#000" stroke-width="0.9">**</text>
<text x="1509.3" y="1045.5" font-size="8.5" font-weight="normal" text-anchor="middle" fill="#000"  stroke="#000" stroke-width="0.2">ns</text>
<rect x="1254.1" y="992.3" width="27.1" height="7.6" fill="#000" stroke="none" stroke-width="0" rx="1.2"/>
<g transform="translate(1254.9,1011.0)"><rect x="0" y="0" width="25.5" height="6.4" fill="url(#chkL)" stroke="#000" stroke-width="1.1"/></g>
<text x="1295.1" y="999.5" font-size="11.2" font-weight="normal" text-anchor="start" fill="#000" textLength="126.7" lengthAdjust="spacingAndGlyphs"  stroke="#000" stroke-width="0.45">MRC-5 control (FBS 5%)</text>
<text x="1295.1" y="1017.3" font-size="11.2" font-weight="normal" text-anchor="start" fill="#000" textLength="140.8" lengthAdjust="spacingAndGlyphs"  stroke="#000" stroke-width="0.45">MRC-5 (8505c CM FBS5%)</text>
<text x="1152.7" y="1300.7" font-size="13.6" font-weight="bold" text-anchor="start" fill="#000" textLength="79.0" lengthAdjust="spacingAndGlyphs" >NAC 10 mM</text>
<text x="1283.1" y="1300.4" font-size="20" font-weight="bold" text-anchor="middle" fill="#000" >-</text>
<text x="1372.3" y="1301.0" font-size="17.5" font-weight="normal" text-anchor="middle" fill="#000"  stroke="#000" stroke-width="0.45">+</text>
<text x="1462.7" y="1300.4" font-size="20" font-weight="bold" text-anchor="middle" fill="#000" >-</text>
<text x="1551.7" y="1301.0" font-size="17.5" font-weight="normal" text-anchor="middle" fill="#000"  stroke="#000" stroke-width="0.45">+</text>
</svg>
</body></html>
